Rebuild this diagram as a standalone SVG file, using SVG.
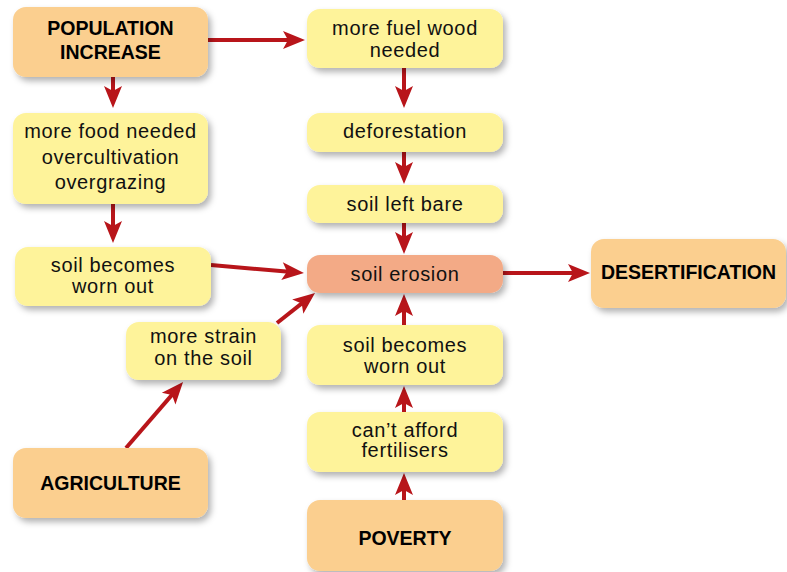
<svg xmlns="http://www.w3.org/2000/svg" width="787" height="572" viewBox="0 0 787 572">
  <style>
    .box { stroke: none; filter: url(#shadow); }
    .cause { fill: #FBCF8F; }
    .step { fill: #FEF39A; }
    .core { fill: #F3AA86; }
    .t { font-family: "Liberation Sans", Arial, sans-serif; font-size: 20px; letter-spacing: 0.65px; fill: #111; text-anchor: middle; }
    .b { font-family: "Liberation Sans", Arial, sans-serif; font-size: 19.5px; font-weight: bold; fill: #000; text-anchor: middle; }
    .link { stroke: #B8151A; stroke-width: 4; fill: none; marker-end: url(#head); }
  </style>
  <defs>
    <filter id="shadow" x="-20%" y="-20%" width="150%" height="160%">
      <feDropShadow dx="3" dy="4" stdDeviation="3" flood-color="#000" flood-opacity="0.3"/>
    </filter>
    <marker id="head" markerUnits="userSpaceOnUse" markerWidth="24" markerHeight="20" refX="10" refY="9" orient="auto" overflow="visible">
      <path d="M0,0 L22,9 L0,18 L5,9 Z" fill="#B8151A"/>
    </marker>
  </defs>

  <rect width="787" height="572" fill="#fff"/>

  <g id="connectors">
    <line class="link" x1="208" y1="40" x2="293" y2="40"/>
    <line class="link" x1="113" y1="77" x2="113" y2="96"/>
    <line class="link" x1="404" y1="68" x2="404" y2="96"/>
    <line class="link" x1="404" y1="152" x2="404" y2="172"/>
    <line class="link" x1="404" y1="223" x2="404" y2="242"/>
    <line class="link" x1="113" y1="204" x2="113" y2="231"/>
    <line class="link" x1="211" y1="265" x2="292" y2="272"/>
    <line class="link" x1="277" y1="323" x2="305.6" y2="300.4"/>
    <line class="link" x1="126" y1="448" x2="175.2" y2="391.1"/>
    <line class="link" x1="503" y1="273" x2="578" y2="273"/>
    <line class="link" x1="404" y1="325" x2="404" y2="306"/>
    <line class="link" x1="404" y1="412" x2="404" y2="398"/>
    <line class="link" x1="404" y1="500" x2="404" y2="485"/>
  </g>

  <g id="population-increase">
    <rect class="box cause" x="13" y="7" width="195" height="70" rx="13"/>
    <text class="b" x="110.5" y="35">POPULATION</text>
    <text class="b" x="110.5" y="59">INCREASE</text>
  </g>

  <g id="fuel-wood">
    <rect class="box step" x="307" y="9" width="196" height="59" rx="13"/>
    <text class="t" x="405" y="35">more fuel wood</text>
    <text class="t" x="405" y="57">needed</text>
  </g>

  <g id="more-food">
    <rect class="box step" x="13" y="113" width="195" height="91" rx="13"/>
    <text class="t" x="110.5" y="138">more food needed</text>
    <text class="t" x="110.5" y="164">overcultivation</text>
    <text class="t" x="110.5" y="189">overgrazing</text>
  </g>

  <g id="deforestation">
    <rect class="box step" x="307" y="113" width="196" height="39" rx="13"/>
    <text class="t" x="405" y="138">deforestation</text>
  </g>

  <g id="soil-left-bare">
    <rect class="box step" x="307" y="185" width="196" height="38" rx="13"/>
    <text class="t" x="405" y="211">soil left bare</text>
  </g>

  <g id="worn-out-left">
    <rect class="box step" x="15" y="247" width="196" height="59" rx="13"/>
    <text class="t" x="113" y="272">soil becomes</text>
    <text class="t" x="113" y="293">worn out</text>
  </g>

  <g id="soil-erosion">
    <rect class="box core" x="307" y="255" width="196" height="38" rx="13"/>
    <text class="t" x="405" y="281">soil erosion</text>
  </g>

  <g id="desertification">
    <rect class="box cause" x="591" y="239" width="195" height="69" rx="13"/>
    <text class="b" x="688.5" y="279">DESERTIFICATION</text>
  </g>

  <g id="more-strain">
    <rect class="box step" x="126" y="322" width="155" height="58" rx="13"/>
    <text class="t" x="203.5" y="343">more strain</text>
    <text class="t" x="203.5" y="365">on the soil</text>
  </g>

  <g id="worn-out-centre">
    <rect class="box step" x="307" y="325" width="196" height="60" rx="13"/>
    <text class="t" x="405" y="352">soil becomes</text>
    <text class="t" x="405" y="373">worn out</text>
  </g>

  <g id="agriculture">
    <rect class="box cause" x="13" y="448" width="195" height="70" rx="13"/>
    <text class="b" x="110.5" y="490">AGRICULTURE</text>
  </g>

  <g id="fertilisers">
    <rect class="box step" x="307" y="412" width="196" height="60" rx="13"/>
    <text class="t" x="405" y="437">can’t afford</text>
    <text class="t" x="405" y="457">fertilisers</text>
  </g>

  <g id="poverty">
    <rect class="box cause" x="307" y="500" width="196" height="71" rx="13"/>
    <text class="b" x="405" y="545">POVERTY</text>
  </g>
</svg>
